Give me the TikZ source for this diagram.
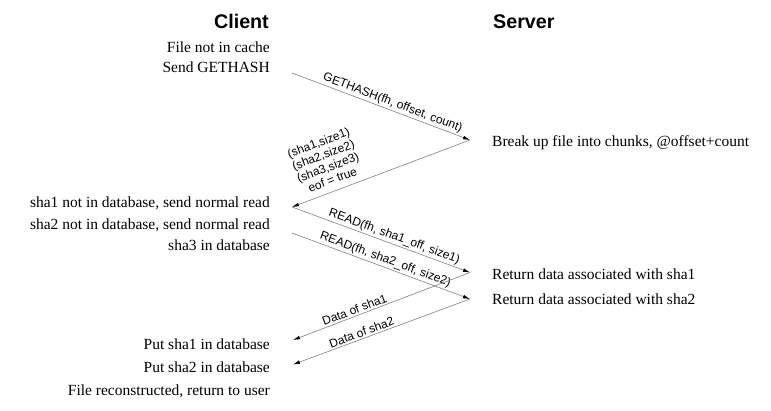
\documentclass[tikz,border=0pt]{standalone}
\usepackage{fontspec}
\setmainfont{Liberation Serif}
\setsansfont{Liberation Sans}
\usetikzlibrary{arrows.meta}
\tikzset{
  title/.style={font=\sffamily\bfseries\fontsize{19.7}{22}\selectfont, inner sep=0pt},
  ctext/.style={font=\fontsize{15.5}{18}\selectfont, anchor=base east, inner sep=0pt},
  stext/.style={font=\fontsize{15.5}{18}\selectfont, anchor=base west, inner sep=0pt},
  msg/.style={draw=gray, line width=0.6pt, -{Latex[length=7pt,width=3.6pt,color=black]}},
  lbl/.style={font=\sffamily\fontsize{12}{13.2}\selectfont, sloped, above, inner sep=1.6pt, align=center}
}
\begin{document}
\begin{tikzpicture}[x=1pt,y=-1pt]
\useasboundingbox (0,0) rectangle (771,410);
% titles
\node[title, anchor=base east] (client) at (269,28) {Client};
\node[title, anchor=base west] (server) at (493,28) {Server};
% client texts
\node[ctext] (c1) at (270,52.3) {File not in cache};
\node[ctext] (c2) at (270,72.7) {Send GETHASH};
\node[ctext] (c3) at (270,207.3) {sha1 not in database, send normal read};
\node[ctext] (c4) at (270,229) {sha2 not in database, send normal read};
\node[ctext] (c5) at (270,250.7) {sha3 in database};
\node[ctext] (c6) at (270,349) {Put sha1 in database};
\node[ctext] (c7) at (270,372.5) {Put sha2 in database};
\node[ctext] (c8) at (270,395) {File reconstructed, return to user};
% server texts
\node[stext] (s1) at (492,146) {Break up file into chunks, @offset+count};
\node[stext] (s2) at (492,279.3) {Return data associated with sha1};
\node[stext] (s3) at (492,304.7) {Return data associated with sha2};
% endpoints
\coordinate (p1) at (292,73);
\coordinate (q1) at (470,140);
\coordinate (p2) at (292,207);
\coordinate (p3) at (292,233);
\coordinate (q2) at (470,272.5);
\coordinate (q3) at (470,299);
\coordinate (p4) at (293,340);
\coordinate (p5) at (293,364.5);
% messages
\draw[msg] (p1) -- node[lbl, pos=0.55] {GETHASH(fh, offset, count)} (q1);
\draw[msg] (q1) -- node[lbl, pos=0.75, above=5pt] {(sha1,size1)\\(sha2,size2)\\(sha3,size3)\\eof = true} (p2);
\draw[msg] (p2) -- node[lbl, pos=0.56] {READ(fh, sha1\_off, size1)} (q2);
\draw[msg] (p3) -- node[lbl, pos=0.51] {READ(fh, sha2\_off, size2)} (q3);
\draw[msg] (q2) -- node[lbl, pos=0.64] {Data of sha1} (p4);
\draw[msg] (q3) -- node[lbl, pos=0.6] {Data of sha2} (p5);
\end{tikzpicture}
\end{document}
